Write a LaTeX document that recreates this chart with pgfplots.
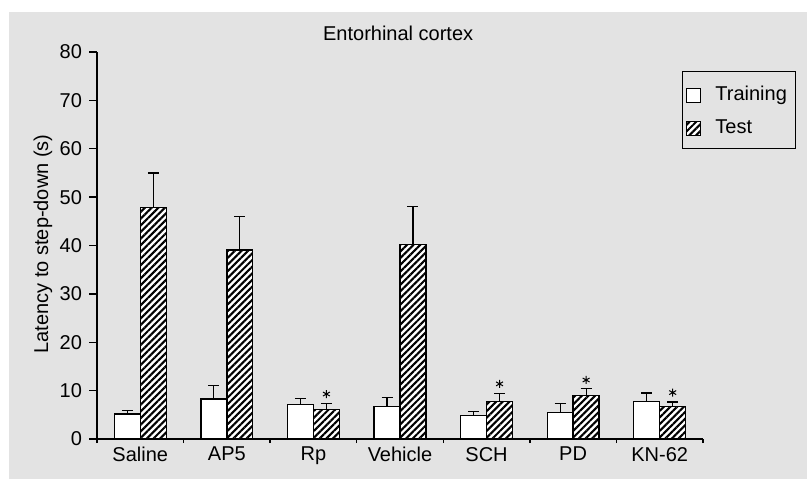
\documentclass[border=0pt]{standalone}
\usepackage{fontspec}
\setmainfont{Liberation Sans}
\usepackage{pgfplots}
\usepackage{pgfplotstable}
\pgfplotsset{compat=1.18}
\usetikzlibrary{patterns.meta}
\definecolor{bg}{RGB}{227,227,227}
\pgfplotstableread{
x  y     e
0  5.2   0.7
1  8.3   2.7
2  7.2   1.2
3  6.7   1.9
4  4.9   0.75
5  5.5   1.8
6  7.8   1.7
}\training
\pgfplotstableread{
x  y     e
0  47.9  7.1
1  39.1  6.9
2  6.1   1.3
3  40.2  7.8
4  7.7   1.7
5  8.95  1.55
6  6.75  0.9
}\test
\begin{document}
\begin{tikzpicture}
\useasboundingbox (0,0) rectangle (403.5pt,239.5pt);
\fill[white] (0,0) rectangle (403.5pt,239.5pt);
\fill[bg] (4.5pt,0) rectangle (403.5pt,233.5pt);
\begin{axis}[
  at={(48.5pt,20pt)}, anchor=south west,
  scale only axis, width=303pt, height=193.5pt,
  xmin=-0.5, xmax=6.5, ymin=0, ymax=80,
  axis x line=bottom, axis y line=left,
  axis line style={-, line width=0.65pt},
  tick align=outside,
  major tick length=4pt, minor tick length=2pt,
  tick style={black, line width=0.65pt},
  major x tick style={draw=none},
  ytick={0,10,...,80},
  xtick={0,...,6},
  xticklabels={Saline,AP5,Rp,Vehicle,SCH,PD,KN-62},
  minor xtick={-0.5,0.5,...,6.5},
  font=\fontsize{10pt}{12pt}\selectfont,
  tick label style={font=\fontsize{10pt}{12pt}\selectfont},
  /pgf/number format/assume math mode=true,
  xticklabel style={yshift=3.5pt},
  title={Entorhinal cortex},
  title style={at={(axis description cs:0.497,1)}, anchor=base, inner sep=0pt},
  ylabel={Latency to step-down (s)},
  every axis y label/.style={at={(axis description cs:-0.089,0.504)}, rotate=90, anchor=center},
  legend style={at={(axis description cs:1.1535,0.951)}, anchor=north east,
    draw=black, line width=0.6pt, fill=bg, inner xsep=4.25pt, inner ysep=6.4pt,
    row sep=6.8pt, column sep=7pt,
    nodes={inner sep=0pt, text height=8.2pt, text depth=1pt, anchor=base west},
    font=\fontsize{10pt}{12pt}\selectfont},
  legend cell align=left,
  legend image code/.code={\path (0pt,-1pt) rectangle (4.5pt,6pt);
     \draw[#1, line width=0.6pt, overlay] (-2.5pt,-1pt) rectangle (4.5pt,6pt);},
  error bars/error bar style={line width=0.6pt, black},
  error bars/error mark options={line width=0.6pt, black, mark size=2.75pt, rotate=90},
]
\addplot[ybar, bar width=0.3, bar shift=0pt, draw=black, line width=0.65pt, fill=white,
  error bars/.cd, y dir=plus, y explicit]
  table[x expr=\thisrow{x}-0.15, y=y, y error=e] {\training};
\addlegendentry{Training}
\addplot[ybar, bar width=0.3, bar shift=0pt, draw=black, line width=0.65pt, fill=white,
  postaction={pattern={Lines[angle=45, distance=2.35pt, line width=1.05pt]}, pattern color=black},
  error bars/.cd, y dir=plus, y explicit]
  table[x expr=\thisrow{x}+0.15, y=y, y error=e] {\test};
\addlegendentry{Test}
\addplot[only marks, mark=asterisk, mark size=2pt, line width=0.5pt, black, forget plot]
  coordinates {(2.15,9.3) (4.15,11.4) (5.15,12.2) (6.15,9.6)};
\end{axis}
\end{tikzpicture}
\end{document}
